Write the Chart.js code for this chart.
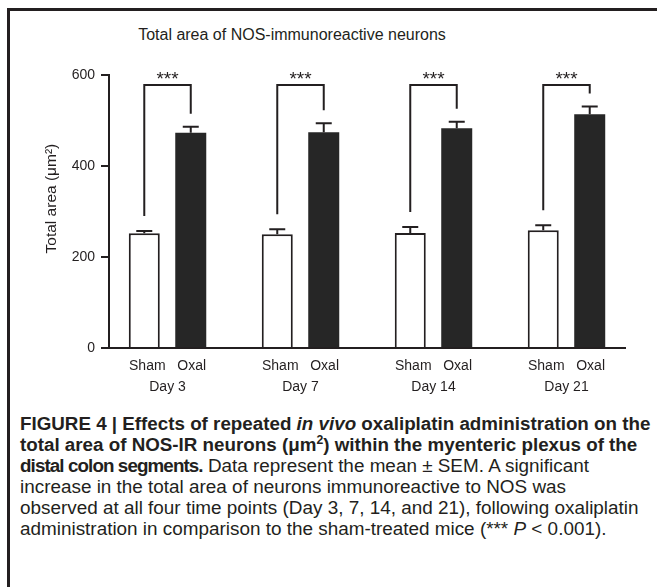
<!DOCTYPE html>
<html>
<head>
<meta charset="utf-8">
<script src="https://cdn.jsdelivr.net/npm/chart.js@4"></script>
<style>
  body { margin: 0; width: 657px; height: 587px; overflow: hidden; background: #fff; position: relative; font-family: "Liberation Sans", Arial, sans-serif; color: #231f20; }
  #frame { position: absolute; left: 7px; top: 8px; width: 700px; height: 640px; border-top: 3px solid #231f20; border-left: 3px solid #231f20; }
  #chart { position: absolute; left: 0; top: 0; }
  #title { position: absolute; left: 0; top: 25px; width: 584px; text-align: center; font-size: 16px; line-height: 20px; }
  #caption { position: absolute; left: 20px; top: 414px; font-size: 18.9px; line-height: 20.9px; white-space: nowrap; }
  #caption b { font-size: 18.8px; }
  #caption .tight { letter-spacing: -0.9px; }
  #caption sup { font-size: 0.65em; line-height: 0; vertical-align: 0.55em; }
</style>
</head>
<body>
<div id="frame"></div>
<div id="title">Total area of NOS-immunoreactive neurons</div>
<canvas id="chart" width="657" height="400"></canvas>
<div id="caption"><b>FIGURE 4 | Effects of repeated <i>in vivo</i> oxaliplatin administration on the<br>total area of NOS-IR neurons (μm<sup>2</sup>) within the myenteric plexus of the<br><span class="tight">distal colon segments.</span></b> Data represent the mean ± SEM. A significant<br>increase in the total area of neurons immunoreactive to NOS was<br>observed at all four time points (Day 3, 7, 14, and 21), following oxaliplatin<br>administration in comparison to the sham-treated mice (*** <i>P</i> &lt; 0.001).</div>
<script>
/* data */
const days = ["Day 3", "Day 7", "Day 14", "Day 21"];
const groups = ["Sham", "Oxal"];
const shamMean = [252, 250, 253, 259];
const shamSem = [5, 11, 13, 11];
const oxalMean = [473, 474, 483, 514];
const oxalSem = [13, 20, 14, 17];
const stars = ["***", "***", "***", "***"];
const yTicks = [0, 200, 400, 600];
const bracketLevel = 578;

const ink = "#231f20";

// error bars, brackets and stars on top of the bars
const marks = {
  id: "marks",
  afterDatasetsDraw(chart) {
    const ctx = chart.ctx;
    const y = chart.scales.y;
    const sham = chart.getDatasetMeta(0).data;
    const oxal = chart.getDatasetMeta(1).data;
    ctx.save();
    ctx.strokeStyle = ink;
    ctx.lineWidth = 2;
    [[sham, shamMean, shamSem], [oxal, oxalMean, oxalSem]].forEach(([bars, mean, sem]) => {
      bars.forEach((bar, i) => {
        const top = y.getPixelForValue(mean[i] + sem[i]);
        ctx.beginPath();
        ctx.moveTo(bar.x, bar.y);
        ctx.lineTo(bar.x, top);
        ctx.moveTo(bar.x - 8, top);
        ctx.lineTo(bar.x + 8, top);
        ctx.stroke();
      });
    });
    const topY = y.getPixelForValue(bracketLevel);
    ctx.fillStyle = ink;
    ctx.font = "19px 'Liberation Sans', Arial";
    ctx.textAlign = "center";
    ctx.textBaseline = "alphabetic";
    days.forEach((d, i) => {
      const l = sham[i].x, r = oxal[i].x;
      const lb = y.getPixelForValue(shamMean[i] + shamSem[i]) - 15;
      const rb = y.getPixelForValue(oxalMean[i] + oxalSem[i]) - 13;
      ctx.beginPath();
      ctx.moveTo(l, lb);
      ctx.lineTo(l, topY);
      ctx.lineTo(r, topY);
      ctx.lineTo(r, rb);
      ctx.stroke();
      ctx.fillText(stars[i], (l + r) / 2, topY);
    });
    ctx.restore();
  }
};

const ctx1 = document.getElementById("chart").getContext("2d");

const data1 = {
  labels: days.map((d, i) => i),
  datasets: [
    {
      label: groups[0],
      data: shamMean,
      backgroundColor: "#ffffff",
      borderColor: ink,
      borderWidth: 2,
    },
    {
      label: groups[1],
      data: oxalMean,
      backgroundColor: "#262626",
      borderWidth: 0,
    },
  ],
};

const config1 = {
  type: "bar",
  data: data1,
  plugins: [marks],
  options: {
    responsive: false,
    animation: false,
    categoryPercentage: 0.699,
    barPercentage: 0.667,
    layout: { padding: { top: 75, right: 32, left: 0, bottom: 0 } },
    plugins: {
      legend: { display: false },
      tooltip: { enabled: false },
    },
    scales: {
      x: {
        type: "linear",
        offset: false,
        min: -0.44,
        max: 3.44,
        z: 1,
        afterBuildTicks: (s) => { s.ticks = days.map((d, i) => ({ value: i })); },
        afterFit: (s) => { s.height = 52; },
        grid: { display: false, offset: false },
        border: { color: ink, width: 2 },
        ticks: {
          autoSkip: false,
          maxRotation: 0,
          padding: 0,
          color: ink,
          font: { family: "'Liberation Sans', Arial", size: 14, lineHeight: 1.5 },
          callback: (v, i) => [groups.join("   "), days[i]],
        },
      },
      y: {
        min: 0,
        max: 600,
        afterBuildTicks: (s) => { s.ticks = yTicks.map((v) => ({ value: v })); },
        afterFit: (s) => { s.width = 109; },
        grid: { drawOnChartArea: false, drawTicks: true, tickLength: 8, color: ink, lineWidth: 2 },
        border: { color: ink, width: 2 },
        ticks: {
          padding: 6,
          color: ink,
          font: { family: "'Liberation Sans', Arial", size: 14 },
        },
        title: {
          display: true,
          text: "      Total area (μm²)",
          color: ink,
          padding: { top: 42, bottom: 0 },
          font: { family: "'Liberation Sans', Arial", size: 15.5 },
        },
      },
    },
  },
};

const myChart1 = new Chart(ctx1, config1);
</script>
</body>
</html>
